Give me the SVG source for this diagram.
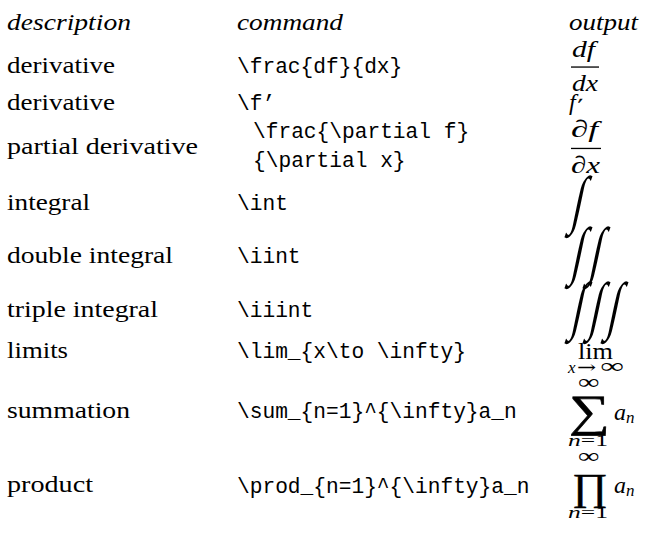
<svg xmlns="http://www.w3.org/2000/svg" width="665" height="541" viewBox="0 0 665 541">
<style>
.rm{font-family:"Liberation Serif",serif;font-size:24px;fill:#000}
.it{font-family:"Liberation Serif",serif;font-size:24px;font-style:italic;fill:#000}
.tt{font-family:"Liberation Mono",monospace;font-size:21.2px;fill:#000}
.sc{font-family:"Liberation Serif",serif;font-size:17px;font-style:italic;fill:#000}
.sr{font-family:"Liberation Serif",serif;font-size:17px;fill:#000}
.inf{font-family:"Liberation Serif",serif;font-size:21px;fill:#000}
.big{font-family:"Liberation Serif",serif;fill:#000}
.int{font-family:"Liberation Serif",serif;font-size:40px;fill:#000}
</style>
<rect width="665" height="541" fill="#fff"/>
<g id="header">
<text class="it" x="7" y="30" textLength="124" lengthAdjust="spacingAndGlyphs">description</text>
<text class="it" x="237" y="30" textLength="106" lengthAdjust="spacingAndGlyphs">command</text>
<text class="it" x="569" y="30" textLength="69" lengthAdjust="spacingAndGlyphs">output</text>
</g>
<g id="description">
<text class="rm" x="7" y="73" textLength="108" lengthAdjust="spacingAndGlyphs">derivative</text>
<text class="rm" x="7" y="110" textLength="108" lengthAdjust="spacingAndGlyphs">derivative</text>
<text class="rm" x="7" y="154" textLength="191" lengthAdjust="spacingAndGlyphs">partial derivative</text>
<text class="rm" x="7" y="210" textLength="83" lengthAdjust="spacingAndGlyphs">integral</text>
<text class="rm" x="7" y="263" textLength="166" lengthAdjust="spacingAndGlyphs">double integral</text>
<text class="rm" x="7" y="317" textLength="151" lengthAdjust="spacingAndGlyphs">triple integral</text>
<text class="rm" x="7" y="358" textLength="61" lengthAdjust="spacingAndGlyphs">limits</text>
<text class="rm" x="7" y="418" textLength="123" lengthAdjust="spacingAndGlyphs">summation</text>
<text class="rm" x="7" y="492" textLength="86" lengthAdjust="spacingAndGlyphs">product</text>
</g>
<g id="command">
<text class="tt" x="237" y="73">\frac{df}{dx}</text>
<text class="tt" x="237" y="110">\f’</text>
<text class="tt" x="253" y="138">\frac{\partial f}</text>
<text class="tt" x="253" y="167">{\partial x}</text>
<text class="tt" x="237" y="210">\int</text>
<text class="tt" x="237" y="263">\iint</text>
<text class="tt" x="237" y="317">\iiint</text>
<text class="tt" x="237" y="358">\lim_{x\to \infty}</text>
<text class="tt" x="237" y="418">\sum_{n=1}^{\infty}a_n</text>
<text class="tt" x="237" y="493">\prod_{n=1}^{\infty}a_n</text>
</g>
<g id="output">
<text class="it" x="572" y="57" textLength="23" lengthAdjust="spacingAndGlyphs">df</text>
<rect x="571" y="66.4" width="28" height="1.3"/>
<text class="it" x="572" y="91" textLength="26" lengthAdjust="spacingAndGlyphs">dx</text>
<text class="it" x="569" y="110">f</text>
<text x="578" y="113" font-family="DejaVu Sans, sans-serif" font-size="20" stroke="#000" stroke-width="0.5" fill="#000">′</text>
<text class="it" x="571" y="137" textLength="27" lengthAdjust="spacingAndGlyphs">∂f</text>
<rect x="571" y="147.8" width="30" height="1.3"/>
<text class="it" x="571" y="173" textLength="29" lengthAdjust="spacingAndGlyphs">∂x</text>
<text class="int" transform="translate(570,221) skewX(-12) scale(1,1.6)">∫</text>
<text class="int" transform="translate(570,272) skewX(-12) scale(1,1.6)">∫</text>
<text class="int" transform="translate(588,272) skewX(-12) scale(1,1.6)">∫</text>
<text class="int" transform="translate(570,327) skewX(-12) scale(1,1.6)">∫</text>
<text class="int" transform="translate(588,327) skewX(-12) scale(1,1.6)">∫</text>
<text class="int" transform="translate(606,327) skewX(-12) scale(1,1.6)">∫</text>
<text class="rm" x="578" y="359" textLength="35" lengthAdjust="spacingAndGlyphs">lim</text>
<text class="sc" x="568" y="373">x</text>
<text class="sr" transform="translate(577,373) scale(1.35,1)" style="font-family:'DejaVu Serif',serif">→</text>
<text class="inf" transform="translate(600,373) scale(1.6,1)">∞</text>
<text class="inf" transform="translate(578,389) scale(1.45,1)">∞</text>
<text class="big" font-size="44" transform="translate(569,426) scale(1.3,1.02)" stroke="#000" stroke-width="0.6">∑</text>
<text class="it" x="614" y="420">a<tspan font-size="17" dy="3">n</tspan></text>
<text class="sc" x="568" y="446" textLength="40" lengthAdjust="spacingAndGlyphs">n<tspan class="sr" font-style="normal">=1</tspan></text>
<text class="inf" transform="translate(578,463) scale(1.45,1)">∞</text>
<text class="big" font-size="38" transform="translate(572,500) scale(1.15,1)" stroke="#000" stroke-width="0.4">∏</text>
<text class="it" x="614" y="493">a<tspan font-size="17" dy="3">n</tspan></text>
<text class="sc" x="568" y="518" textLength="40" lengthAdjust="spacingAndGlyphs">n<tspan class="sr" font-style="normal">=1</tspan></text>
</g>
</svg>
